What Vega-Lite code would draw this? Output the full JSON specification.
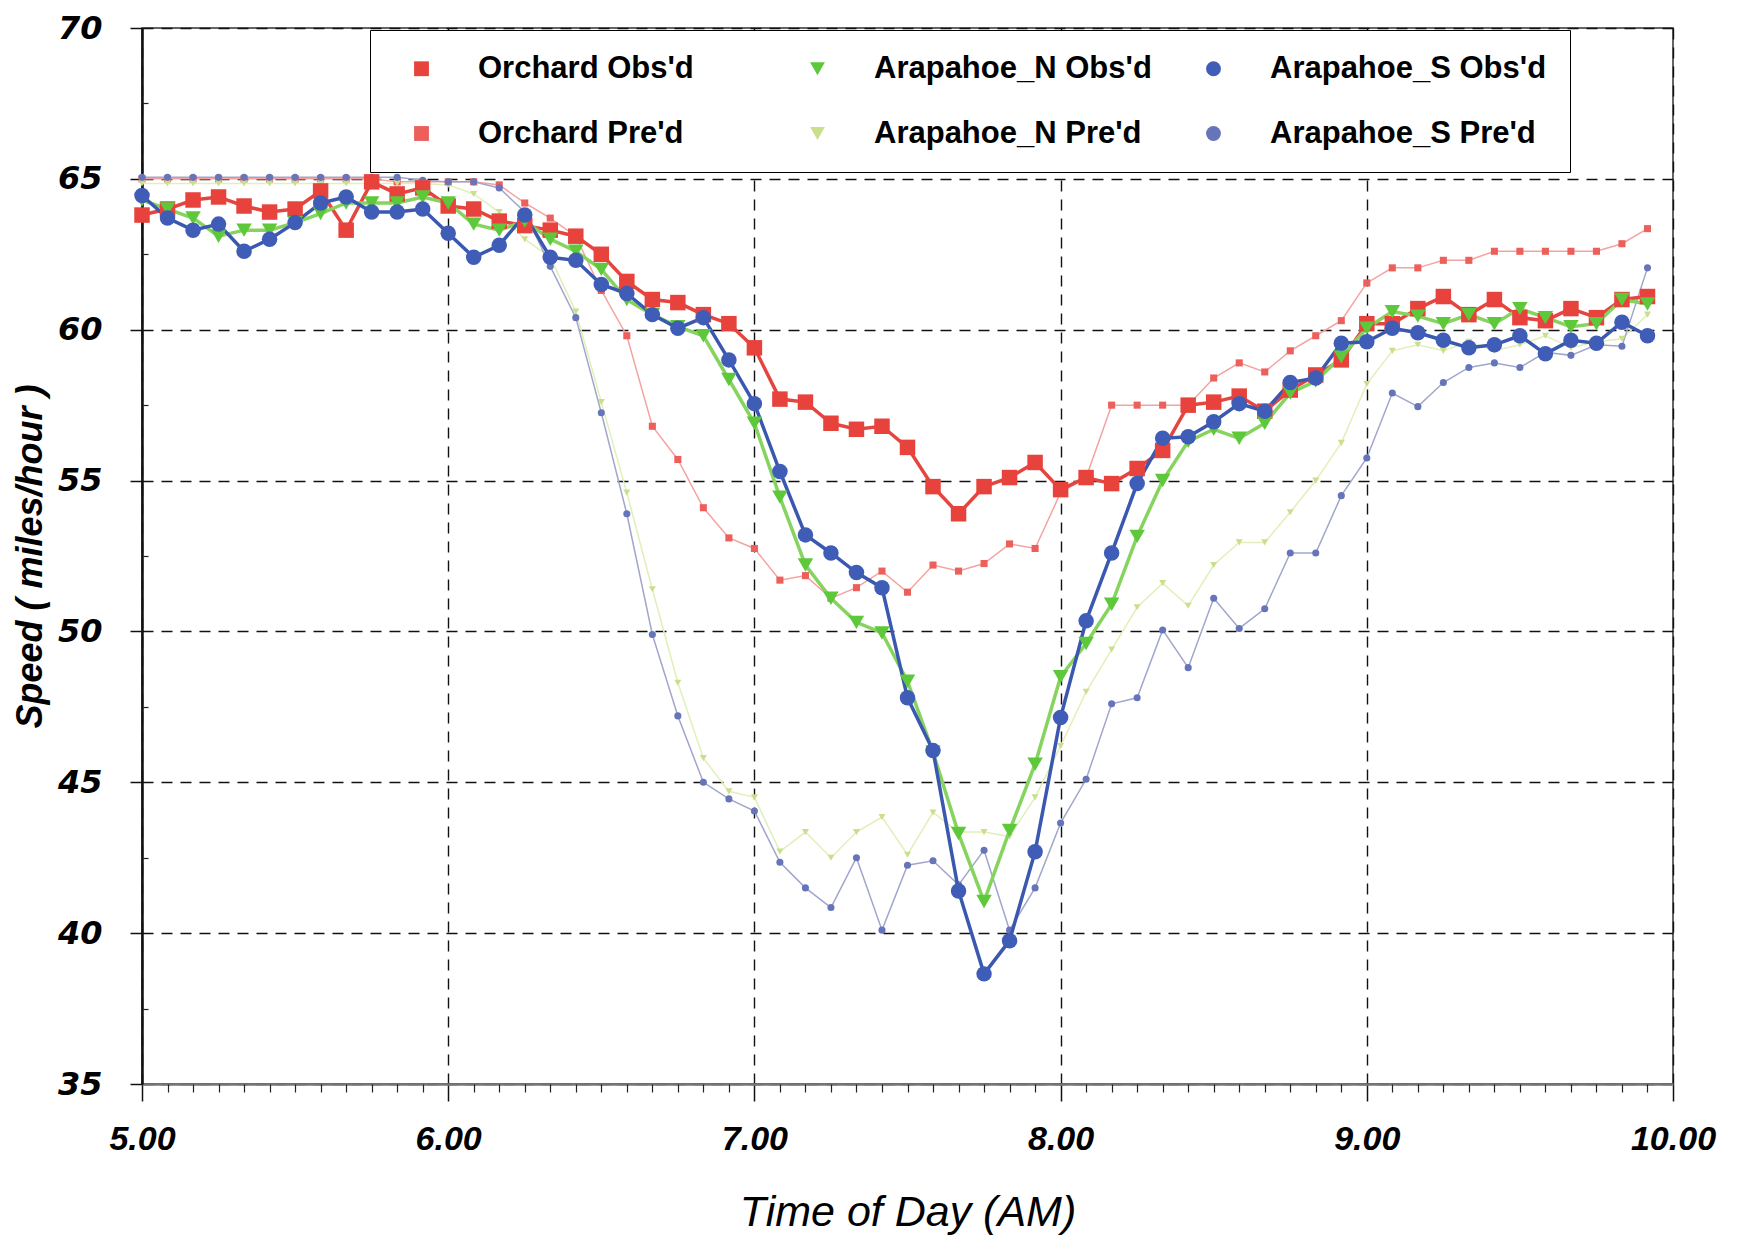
{
  "$schema": "https://vega.github.io/schema/vega-lite/v6.json",
  "width": 1531,
  "height": 1056,
  "autosize": {"type": "none"},
  "padding": {"left": 142, "top": 28, "right": 70, "bottom": 156},
  "background": "white",
  "config": {"view": {"stroke": "#333", "strokeWidth": 1.5}, "font": "Liberation Sans"},
  "datasets": {
    "names": [
      {"k": "oo", "name": "Orchard Obs'd"},
      {"k": "op", "name": "Orchard Pre'd"},
      {"k": "no", "name": "Arapahoe_N Obs'd"},
      {"k": "np", "name": "Arapahoe_N Pre'd"},
      {"k": "so", "name": "Arapahoe_S Obs'd"},
      {"k": "sp", "name": "Arapahoe_S Pre'd"}
    ],
    "speeds": [
      {"t":5,"oo":63.8,"op":65.0,"no":64.3,"np":64.85,"so":64.45,"sp":65.05},
      {"t":5.0833,"oo":64.0,"op":65.0,"no":64.0,"np":64.85,"so":63.7,"sp":65.05},
      {"t":5.1667,"oo":64.3,"op":65.0,"no":63.7,"np":64.85,"so":63.3,"sp":65.05},
      {"t":5.25,"oo":64.4,"op":65.0,"no":63.1,"np":64.85,"so":63.5,"sp":65.05},
      {"t":5.3333,"oo":64.1,"op":65.0,"no":63.3,"np":64.85,"so":62.6,"sp":65.05},
      {"t":5.4167,"oo":63.9,"op":65.0,"no":63.3,"np":64.85,"so":63.0,"sp":65.05},
      {"t":5.5,"oo":64.0,"op":65.0,"no":63.55,"np":64.85,"so":63.55,"sp":65.05},
      {"t":5.5833,"oo":64.6,"op":65.0,"no":63.85,"np":64.85,"so":64.2,"sp":65.05},
      {"t":5.6667,"oo":63.3,"op":65.0,"no":64.2,"np":64.85,"so":64.4,"sp":65.05},
      {"t":5.75,"oo":64.9,"op":65.0,"no":64.2,"np":64.85,"so":63.9,"sp":65.05},
      {"t":5.8333,"oo":64.5,"op":64.9,"no":64.2,"np":64.85,"so":63.9,"sp":65.05},
      {"t":5.9167,"oo":64.7,"op":64.9,"no":64.4,"np":64.85,"so":64.0,"sp":64.95},
      {"t":6,"oo":64.1,"op":64.9,"no":64.2,"np":64.8,"so":63.2,"sp":64.9},
      {"t":6.0833,"oo":64.0,"op":64.9,"no":63.5,"np":64.5,"so":62.4,"sp":64.9},
      {"t":6.1667,"oo":63.6,"op":64.8,"no":63.3,"np":63.9,"so":62.8,"sp":64.7},
      {"t":6.25,"oo":63.45,"op":64.2,"no":63.6,"np":63.0,"so":63.8,"sp":63.9},
      {"t":6.3333,"oo":63.3,"op":63.7,"no":63.0,"np":62.4,"so":62.4,"sp":62.1},
      {"t":6.4167,"oo":63.1,"op":63.1,"no":62.6,"np":60.6,"so":62.3,"sp":60.4},
      {"t":6.5,"oo":62.5,"op":61.3,"no":62.0,"np":57.6,"so":61.5,"sp":57.25},
      {"t":6.5833,"oo":61.6,"op":59.8,"no":61.0,"np":54.6,"so":61.2,"sp":53.9},
      {"t":6.6667,"oo":61.0,"op":56.8,"no":60.5,"np":51.4,"so":60.5,"sp":49.9},
      {"t":6.75,"oo":60.9,"op":55.7,"no":60.1,"np":48.3,"so":60.05,"sp":47.2},
      {"t":6.8333,"oo":60.5,"op":54.1,"no":59.8,"np":45.8,"so":60.4,"sp":45.0},
      {"t":6.9167,"oo":60.2,"op":53.1,"no":58.35,"np":44.7,"so":59.0,"sp":44.45},
      {"t":7,"oo":59.4,"op":52.75,"no":56.9,"np":44.5,"so":57.55,"sp":44.05},
      {"t":7.0833,"oo":57.7,"op":51.7,"no":54.45,"np":42.7,"so":55.3,"sp":42.35},
      {"t":7.1667,"oo":57.6,"op":51.85,"no":52.2,"np":43.35,"so":53.2,"sp":41.5},
      {"t":7.25,"oo":56.9,"op":51.1,"no":51.1,"np":42.5,"so":52.6,"sp":40.85},
      {"t":7.3333,"oo":56.7,"op":51.45,"no":50.3,"np":43.35,"so":51.95,"sp":42.5},
      {"t":7.4167,"oo":56.8,"op":52.0,"no":49.95,"np":43.85,"so":51.45,"sp":40.1},
      {"t":7.5,"oo":56.1,"op":51.3,"no":48.35,"np":42.6,"so":47.8,"sp":42.25},
      {"t":7.5833,"oo":54.8,"op":52.2,"no":46.0,"np":44.0,"so":46.05,"sp":42.4},
      {"t":7.6667,"oo":53.9,"op":52.0,"no":43.3,"np":43.35,"so":41.4,"sp":41.6},
      {"t":7.75,"oo":54.8,"op":52.25,"no":41.05,"np":43.35,"so":38.65,"sp":42.75},
      {"t":7.8333,"oo":55.1,"op":52.9,"no":43.4,"np":43.2,"so":39.75,"sp":40.1},
      {"t":7.9167,"oo":55.6,"op":52.75,"no":45.6,"np":44.5,"so":42.7,"sp":41.5},
      {"t":8,"oo":54.7,"op":54.6,"no":48.5,"np":46.2,"so":47.15,"sp":43.65},
      {"t":8.0833,"oo":55.1,"op":55.1,"no":49.6,"np":48.0,"so":50.35,"sp":45.1},
      {"t":8.1667,"oo":54.9,"op":57.5,"no":50.9,"np":49.4,"so":52.6,"sp":47.6},
      {"t":8.25,"oo":55.4,"op":57.5,"no":53.15,"np":50.8,"so":54.9,"sp":47.8},
      {"t":8.3333,"oo":56.0,"op":57.5,"no":55.0,"np":51.6,"so":56.4,"sp":50.05},
      {"t":8.4167,"oo":57.5,"op":57.5,"no":56.3,"np":50.85,"so":56.45,"sp":48.8},
      {"t":8.5,"oo":57.6,"op":58.4,"no":56.7,"np":52.2,"so":56.95,"sp":51.1},
      {"t":8.5833,"oo":57.8,"op":58.9,"no":56.4,"np":52.95,"so":57.55,"sp":50.1},
      {"t":8.6667,"oo":57.3,"op":58.6,"no":56.9,"np":52.95,"so":57.3,"sp":50.75},
      {"t":8.75,"oo":58.0,"op":59.3,"no":57.9,"np":53.95,"so":58.25,"sp":52.6},
      {"t":8.8333,"oo":58.5,"op":59.8,"no":58.3,"np":55.0,"so":58.4,"sp":52.6},
      {"t":8.9167,"oo":59.0,"op":60.3,"no":59.1,"np":56.25,"so":59.55,"sp":54.5},
      {"t":9,"oo":60.2,"op":61.55,"no":60.05,"np":58.2,"so":59.6,"sp":55.75},
      {"t":9.0833,"oo":60.2,"op":62.05,"no":60.6,"np":59.3,"so":60.05,"sp":57.9},
      {"t":9.1667,"oo":60.7,"op":62.05,"no":60.45,"np":59.5,"so":59.9,"sp":57.45},
      {"t":9.25,"oo":61.1,"op":62.3,"no":60.2,"np":59.3,"so":59.65,"sp":58.25},
      {"t":9.3333,"oo":60.5,"op":62.3,"no":60.5,"np":59.6,"so":59.4,"sp":58.75},
      {"t":9.4167,"oo":61.0,"op":62.6,"no":60.2,"np":59.3,"so":59.5,"sp":58.9},
      {"t":9.5,"oo":60.4,"op":62.6,"no":60.7,"np":59.5,"so":59.8,"sp":58.75},
      {"t":9.5833,"oo":60.3,"op":62.6,"no":60.4,"np":59.8,"so":59.2,"sp":59.25},
      {"t":9.6667,"oo":60.7,"op":62.6,"no":60.1,"np":59.4,"so":59.65,"sp":59.15},
      {"t":9.75,"oo":60.4,"op":62.6,"no":60.2,"np":59.6,"so":59.55,"sp":59.5},
      {"t":9.8333,"oo":61.0,"op":62.85,"no":61.0,"np":59.7,"so":60.25,"sp":59.45},
      {"t":9.9167,"oo":61.1,"op":63.35,"no":60.85,"np":60.5,"so":59.8,"sp":62.05}
    ]
  },
  "data": {"name": "speeds"},
  "transform": [
    {"fold": ["op", "np", "sp", "oo", "no", "so"], "as": ["k", "v"]},
    {"lookup": "k", "from": {"data": {"name": "names"}, "key": "k", "fields": ["name"]}}
  ],
  "layer": [
    {
      "transform": [{"filter": "indexof(datum.name,'Pre')>=0"}],
      "mark": {"type": "line", "strokeWidth": 1.5},
      "encoding": {
        "x": {"field": "t", "type": "quantitative", "scale": {"domain": [5, 10], "nice": false, "zero": false},
          "axis": {"orient": "bottom", "values": [5, 6, 7, 8, 9, 10], "format": ".2f", "labelFlush": false, "labelOverlap": false,
            "labelFont": "Liberation Sans", "labelFontSize": 34, "labelFontWeight": "bold", "labelFontStyle": "italic", "labelColor": "#000", "labelPadding": 21,
            "tickSize": 17, "tickColor": "#111", "tickWidth": 1.5, "domainColor": "#777", "domainWidth": 2.5,
            "grid": true, "gridColor": "#111", "gridDash": [11, 8], "gridWidth": 1.4,
            "title": "Time of Day (AM)", "titleFont": "Liberation Sans", "titleFontSize": 43, "titleFontWeight": "normal", "titleFontStyle": "italic", "titleColor": "#000", "titlePadding": 35}},
        "y": {"field": "v", "type": "quantitative", "scale": {"domain": [35, 70], "nice": false, "zero": false},
          "axis": {"orient": "left", "values": [35, 40, 45, 50, 55, 60, 65, 70], "labelFlush": false, "labelOverlap": false,
            "labelFont": "DejaVu Sans", "labelFontSize": 32, "labelFontWeight": "bold", "labelFontStyle": "italic", "labelColor": "#000", "labelPadding": 28,
            "tickSize": 12, "tickColor": "#111", "tickWidth": 1.5, "domainColor": "#111", "domainWidth": 2.5,
            "grid": true, "gridColor": "#111", "gridDash": [11, 8], "gridWidth": 1.4,
            "title": "Speed ( miles/hour )", "titleFont": "Liberation Sans", "titleFontSize": 36, "titleFontWeight": "bold", "titleFontStyle": "italic", "titleColor": "#000", "titlePadding": 8}},
        "stroke": {"field": "name", "type": "nominal",
          "scale": {"domain": ["Orchard Pre'd", "Arapahoe_N Pre'd", "Arapahoe_S Pre'd", "Orchard Obs'd", "Arapahoe_N Obs'd", "Arapahoe_S Obs'd"],
                    "range": ["#F3A3A0", "#E2EFB8", "#A0A6CC", "#E5453F", "#86D35F", "#3B58B0"]}, "legend": null}
      }
    },
    {
      "transform": [{"filter": "indexof(datum.name,'Pre')>=0"}],
      "mark": {"type": "point", "filled": true, "opacity": 1, "size": 50},
      "encoding": {
        "x": {"field": "t", "type": "quantitative",
          "axis": {"orient": "bottom", "values": [5.0833,5.1667,5.25,5.3333,5.4167,5.5,5.5833,5.6667,5.75,5.8333,5.9167,6.0833,6.1667,6.25,6.3333,6.4167,6.5,6.5833,6.6667,6.75,6.8333,6.9167,7.0833,7.1667,7.25,7.3333,7.4167,7.5,7.5833,7.6667,7.75,7.8333,7.9167,8.0833,8.1667,8.25,8.3333,8.4167,8.5,8.5833,8.6667,8.75,8.8333,8.9167,9.0833,9.1667,9.25,9.3333,9.4167,9.5,9.5833,9.6667,9.75,9.8333,9.9167],
            "labels": false, "domain": false, "grid": false, "tickSize": 8, "tickColor": "#222", "tickWidth": 1.2, "title": null}},
        "y": {"field": "v", "type": "quantitative",
          "axis": {"orient": "left", "values": [37.5, 42.5, 47.5, 52.5, 57.5, 62.5, 67.5], "labels": false, "domain": false, "grid": false, "tickSize": -6, "tickColor": "#222", "tickWidth": 1.2, "title": null}},
        "color": {"field": "name", "type": "nominal",
          "scale": {"domain": ["Orchard Obs'd", "Arapahoe_N Obs'd", "Arapahoe_S Obs'd", "Orchard Pre'd", "Arapahoe_N Pre'd", "Arapahoe_S Pre'd"],
                    "range": ["#E8423C", "#5CC83A", "#3F5DB6", "#EC5F5A", "#CADF8C", "#6674BA"]}},
        "shape": {"field": "name", "type": "nominal",
          "scale": {"domain": ["Orchard Obs'd", "Arapahoe_N Obs'd", "Arapahoe_S Obs'd", "Orchard Pre'd", "Arapahoe_N Pre'd", "Arapahoe_S Pre'd"],
                    "range": ["square", "triangle-down", "circle", "square", "triangle-down", "circle"]}}
      }
    },
    {
      "transform": [{"filter": "indexof(datum.name,'Obs')>=0"}],
      "mark": {"type": "line", "strokeWidth": 3.5},
      "encoding": {
        "x": {"field": "t", "type": "quantitative", "axis": null},
        "y": {"field": "v", "type": "quantitative", "axis": null},
        "stroke": {"field": "name", "type": "nominal",
          "scale": {"domain": ["Orchard Pre'd", "Arapahoe_N Pre'd", "Arapahoe_S Pre'd", "Orchard Obs'd", "Arapahoe_N Obs'd", "Arapahoe_S Obs'd"],
                    "range": ["#F3A3A0", "#E2EFB8", "#A0A6CC", "#E5453F", "#86D35F", "#3B58B0"]}, "legend": null}
      }
    },
    {
      "transform": [{"filter": "indexof(datum.name,'Obs')>=0"}],
      "mark": {"type": "point", "filled": true, "opacity": 1, "size": 240},
      "encoding": {
        "x": {"field": "t", "type": "quantitative", "axis": null},
        "y": {"field": "v", "type": "quantitative", "axis": null},
        "color": {"field": "name", "type": "nominal",
          "scale": {"domain": ["Orchard Obs'd", "Arapahoe_N Obs'd", "Arapahoe_S Obs'd", "Orchard Pre'd", "Arapahoe_N Pre'd", "Arapahoe_S Pre'd"],
                    "range": ["#E8423C", "#5CC83A", "#3F5DB6", "#EC5F5A", "#CADF8C", "#6674BA"]},
          "legend": {"orient": "none", "legendX": 228, "legendY": 2, "columns": 3, "direction": "horizontal", "title": null,
            "gridAlign": "all", "symbolSize": 220, "symbolOffset": 13, "labelOffset": 41, "columnPadding": 33, "rowPadding": 33, "padding": 23,
            "symbolOpacity": 1, "symbolStrokeWidth": 0,
            "strokeColor": "#000", "fillColor": "#fff",
            "labelFont": "Liberation Sans", "labelFontSize": 31, "labelFontWeight": "bold", "labelColor": "#000", "labelLimit": 600}},
        "shape": {"field": "name", "type": "nominal",
          "scale": {"domain": ["Orchard Obs'd", "Arapahoe_N Obs'd", "Arapahoe_S Obs'd", "Orchard Pre'd", "Arapahoe_N Pre'd", "Arapahoe_S Pre'd"],
                    "range": ["square", "triangle-down", "circle", "square", "triangle-down", "circle"]}}
      }
    }
  ],
  "resolve": {"axis": {"x": "independent", "y": "independent"}}
}
